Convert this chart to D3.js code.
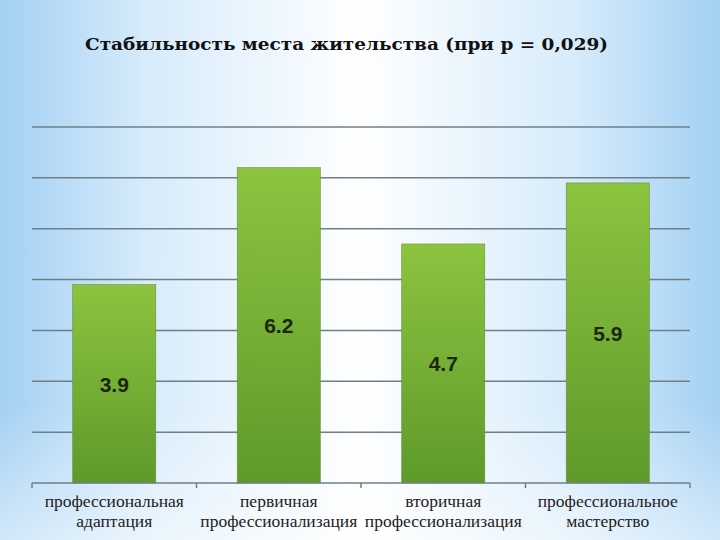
<!DOCTYPE html>
<html><head><meta charset="utf-8">
<script src="https://cdn.jsdelivr.net/npm/d3@7"></script>
<style>html,body{margin:0;padding:0;overflow:hidden;}svg{display:block;}
.cat{font-family:"Liberation Serif","DejaVu Serif",serif;}
.ttl{font-family:"DejaVu Serif","Liberation Serif",serif;}
</style>
</head><body>
<script>
const categories = [["профессиональная","адаптация"],["первичная","профессионализация"],["вторичная","профессионализация"],["профессиональное","мастерство"]];
const values = [3.9, 6.2, 4.7, 5.9];
const yTicks = [0,1,2,3,4,5,6,7];
const title = "Стабильность места жительства (при p = 0,029)";

const W=720,H=540;
const svg=d3.select("body").append("svg").attr("width",W).attr("height",H);
const defs=svg.append("defs");
const bg=defs.append("linearGradient").attr("id","bg").attr("x1","0").attr("x2","1").attr("y1","0").attr("y2","0");
[[0,"#a3d0f3"],[0.2,"#d6ebfb"],[0.5,"#ffffff"],[0.8,"#d6ebfb"],[1,"#a3d0f3"]].forEach(s=>bg.append("stop").attr("offset",s[0]).attr("stop-color",s[1]));
const bgv=defs.append("linearGradient").attr("id","bgv").attr("x1","0").attr("x2","0").attr("y1","0").attr("y2","1");
[[0,"#ffffff",0],[0.75,"#ffffff",0],[1,"#ffffff",0.5]].forEach(s=>bgv.append("stop").attr("offset",s[0]).attr("stop-color",s[1]).attr("stop-opacity",s[2]));
const bar=defs.append("linearGradient").attr("id","bar").attr("x1","0").attr("x2","0").attr("y1","0").attr("y2","1");
[[0,"#8cc43f"],[1,"#5e9a2b"]].forEach(s=>bar.append("stop").attr("offset",s[0]).attr("stop-color",s[1]));
svg.append("rect").attr("width",W).attr("height",H).attr("fill","url(#bg)");
svg.append("rect").attr("width",W).attr("height",H).attr("fill","url(#bgv)");

const m={l:32,r:690,t:127,b:483};
const x=d3.scaleBand().domain(d3.range(categories.length)).range([m.l,m.r]).paddingInner(0).paddingOuter(0);
const y=d3.scaleLinear().domain([0,7]).range([m.b,m.t]);

svg.append("g").selectAll("line").data(yTicks.slice(1)).join("line")
 .attr("x1",m.l).attr("x2",m.r).attr("y1",d=>y(d)).attr("y2",d=>y(d))
 .attr("stroke","#6f7f88").attr("stroke-width",1.5);

const bw=x.bandwidth()*0.505;
svg.append("g").selectAll("rect").data(values).join("rect")
 .attr("x",(d,i)=>x(i)+(x.bandwidth()-bw)/2).attr("width",bw)
 .attr("y",d=>y(d)).attr("height",d=>y(0)-y(d))
 .attr("fill","url(#bar)").attr("stroke","#6a8f3a").attr("stroke-width",0.6);

const ax=svg.append("g").attr("transform",`translate(0,${m.b})`);
ax.append("line").attr("x1",m.l).attr("x2",m.r).attr("stroke","#6f7f88").attr("stroke-width",1.5);
ax.selectAll("line.tk").data(d3.range(categories.length+1)).join("line").attr("class","tk")
 .attr("x1",i=>m.l+i*x.bandwidth()).attr("x2",i=>m.l+i*x.bandwidth()).attr("y1",0).attr("y2",5)
 .attr("stroke","#6f7f88").attr("stroke-width",1.5);

const cl=svg.append("g").selectAll("text").data(categories).join("text")
 .attr("class","cat").attr("text-anchor","middle")
 .attr("font-size",17.5).attr("fill","#222");
cl.each(function(d,i){
  const t=d3.select(this);
  d.forEach((line,j)=>t.append("tspan").attr("x",x(i)+x.bandwidth()/2).attr("y",507+j*20).text(line));
});

svg.append("g").selectAll("text").data(values).join("text")
 .attr("x",(d,i)=>x(i)+x.bandwidth()/2).attr("y",d=>(y(d)+y(0))/2+8)
 .attr("text-anchor","middle").attr("font-family","Liberation Sans, Arial, sans-serif")
 .attr("font-weight","bold").attr("font-size",21).attr("fill","#1c2612").text(d=>d.toFixed(1));

svg.append("text").attr("class","ttl").attr("x",85).attr("y",50)
 .attr("font-weight","bold").attr("font-size",17).attr("fill","#111")
 .attr("textLength",523).attr("lengthAdjust","spacingAndGlyphs").text(title);
</script>
</body></html>
